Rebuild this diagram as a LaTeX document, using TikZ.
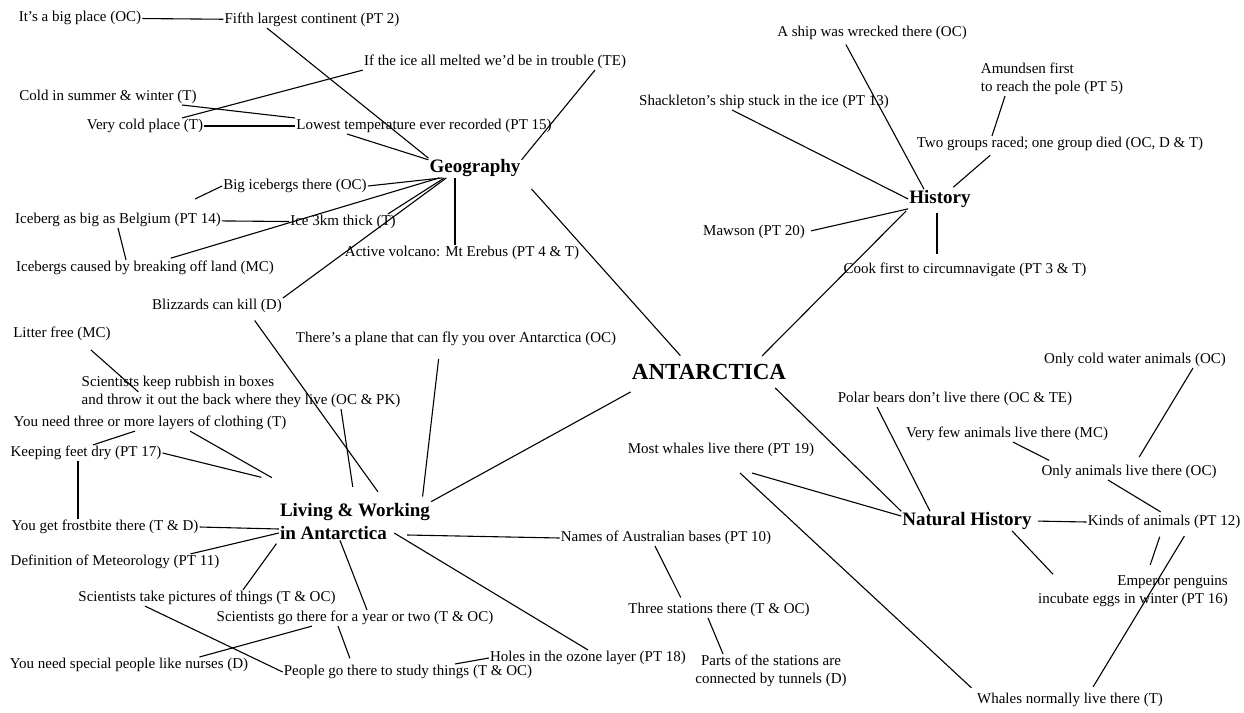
\documentclass[tikz,border=0pt]{standalone}
\usepackage{fontspec}
\setmainfont{Liberation Serif}
\usetikzlibrary{positioning}

\begin{document}
\begin{tikzpicture}[x=1pt,y=-1pt,
	leaf/.style={font=\fontsize{15}{18}\selectfont, inner sep=1pt},
	topic/.style={font=\fontsize{19}{23}\selectfont\bfseries, inner sep=1pt},
	hub/.style={font=\fontsize{23}{26}\selectfont\bfseries, inner sep=1pt},
	conn/.style={line width=1.1pt}]
	\fill[white] (0,0) rectangle (1244,712);
	\useasboundingbox (0,0) rectangle (1244,712);

	\node[hub] (antarctica) at (709,372) {ANTARCTICA};

	% geography
	\node[topic] (geog) at (475,168) {Geography};
	\node[leaf] (bigplace) at (80,18) {It's a big place (OC)};
	\node[leaf] (fifth) at (312,20) {Fifth largest continent (PT 2)};
	\node[leaf] (melted) at (495,62) {If the ice all melted we'd be in trouble (TE)};
	\node[leaf] (coldsw) at (108,97) {Cold in summer \& winter (T)};
	\node[leaf] (verycold) at (145,126) {Very cold place (T)};
	\node[leaf] (lowest) at (424,126) {Lowest temperature ever recorded (PT 15)};
	\node[leaf] (bigice) at (295,186) {Big icebergs there (OC)};
	\node[leaf] (belgium) at (118,220) {Iceberg as big as Belgium (PT 14)};
	\node[leaf] (icethick) at (343,222) {Ice 3km thick (T)};
	\node[leaf] (volcano) at (462,253) {Active volcano: Mt Erebus (PT 4 \& T)};
	\node[leaf] (icebergs) at (145,268) {Icebergs caused by breaking off land (MC)};
	\node[leaf] (blizzard) at (217,306) {Blizzards can kill (D)};

	% history
	\node[topic] (history) at (940,199) {History};
	\node[leaf] (ship) at (872,33) {A ship was wrecked there (OC)};
	\node[leaf, align=left] (amundsen) at (1052,79) {Amundsen first\\to reach the pole (PT 5)};
	\node[leaf] (shackleton) at (764,102) {Shackleton's ship stuck in the ice (PT 13)};
	\node[leaf] (twogroups) at (1060,144) {Two groups raced; one group died (OC, D \& T)};
	\node[leaf] (mawson) at (754,232) {Mawson (PT 20)};
	\node[leaf] (cook) at (965,270) {Cook first to circumnavigate (PT 3 \& T)};

	% natural history
	\node[topic] (nathist) at (967,521) {Natural History};
	\node[leaf] (coldwater) at (1135,360) {Only cold water animals (OC)};
	\node[leaf] (polar) at (955,399) {Polar bears don't live there (OC \& TE)};
	\node[leaf] (fewanimals) at (1007,434) {Very few animals live there (MC)};
	\node[leaf] (mostwhales) at (721,450) {Most whales live there (PT 19)};
	\node[leaf] (onlyanimals) at (1129,472) {Only animals live there (OC)};
	\node[leaf] (kinds) at (1164,522) {Kinds of animals (PT 12)};
	\node[leaf, align=right] (emperor) at (1133,591) {Emperor penguins\\incubate eggs in winter (PT 16)};
	\node[leaf] (whalesnorm) at (1070,700) {Whales normally live there (T)};

	% living & working
	\node[topic, align=left] (living) at (355,521) {Living \& Working\\in Antarctica};
	\node[leaf] (litter) at (62,334) {Litter free (MC)};
	\node[leaf] (plane) at (456,339) {There's a plane that can fly you over Antarctica (OC)};
	\node[leaf, align=left] (rubbish) at (241,392) {Scientists keep rubbish in boxes\\and throw it out the back where they live (OC \& PK)};
	\node[leaf] (layers) at (150,423) {You need three or more layers of clothing (T)};
	\node[leaf] (feet) at (86,453) {Keeping feet dry (PT 17)};
	\node[leaf] (frostbite) at (105,527) {You get frostbite there (T \& D)};
	\node[leaf] (names) at (666,538) {Names of Australian bases (PT 10)};
	\node[leaf] (meteo) at (115,562) {Definition of Meteorology (PT 11)};
	\node[leaf] (pictures) at (207,598) {Scientists take pictures of things (T \& OC)};
	\node[leaf] (three) at (719,610) {Three stations there (T \& OC)};
	\node[leaf] (year) at (355,618) {Scientists go there for a year or two (T \& OC)};
	\node[leaf] (ozone) at (588,658) {Holes in the ozone layer (PT 18)};
	\node[leaf, align=center] (parts) at (771,671) {Parts of the stations are\\connected by tunnels (D)};
	\node[leaf] (nurses) at (129,665) {You need special people like nurses (D)};
	\node[leaf] (study) at (408,672) {People go there to study things (T \& OC)};

	\draw[conn] (bigplace) -- (fifth);
	\draw[conn] ([xshift=-45]fifth.south) -- (geog.north west);
	\draw[conn] (melted.south west) -- ([xshift=37]verycold.north);
	\draw[conn] ([xshift=74]coldsw.south) -- (lowest.north west);
	\draw[conn] (verycold) -- (lowest);
	\draw[conn] ([xshift=-77]lowest.south) -- (geog.170);
	\draw[conn] ([xshift=100]melted.south) -- (geog.10);
	\draw[conn] (bigice.east) -- ([xshift=14]geog.south west);
	\draw[conn, shorten >=30pt] (bigice.west) -- ([xshift=50]belgium.north);
	\draw[conn] (belgium) -- (icethick);
	\draw[conn, shorten <=6pt] ([xshift=20]icebergs.north) -- ([xshift=11]geog.south west);
	\draw[conn] ([xshift=-9]icethick.north east) -- ([xshift=16]geog.south west);
	\draw[conn] (blizzard.north east) -- ([xshift=18]geog.south west);
	\draw[conn] ([xshift=-7]volcano.north) -- ([xshift=-20]geog.south);
	\draw[conn] (belgium.south) -- ([xshift=-19]icebergs.north);
	\draw[conn, shorten <=15pt, shorten >=10pt] (geog.south east) -- ([xshift=-22]antarctica.north);

	\draw[conn, shorten <=4pt] ([xshift=-28]ship.south) -- ([xshift=-16]history.north);
	\draw[conn] ([xshift=-32]shackleton.south) -- (history.west);
	\draw[conn] ([xshift=-47]amundsen.south) -- ([xshift=-68]twogroups.north);
	\draw[conn, shorten <=5pt, shorten >=3pt] ([xshift=-66]twogroups.south) -- ([xshift=11]history.north);
	\draw[conn, shorten <=5pt] (mawson.east) -- (history.south west);
	\draw[conn, shorten <=4pt, shorten >=8pt] ([xshift=-3]history.south) -- ([xshift=-28]cook.north);
	\draw[conn, shorten <=3pt, shorten >=10pt] (history.south west) -- ([xshift=46]antarctica.north);

	\draw[conn, shorten <=10pt] ([xshift=59]antarctica.south) -- (nathist.north west);
	\draw[conn] ([xshift=-78]polar.south) -- ([xshift=-37]nathist.north);
	\draw[conn] ([xshift=31,yshift=-15]mostwhales.south) -- ([yshift=5]nathist.west);
	\draw[conn, shorten >=6pt] ([xshift=19,yshift=-15]mostwhales.south) -- (whalesnorm.north west);
	\draw[conn, shorten >=8pt] ([xshift=6]fewanimals.south) -- ([xshift=16]onlyanimals.north west);
	\draw[conn, shorten >=8pt] ([xshift=58]coldwater.south) -- ([xshift=6]onlyanimals.north);
	\draw[conn, shorten >=4pt] ([xshift=-21]onlyanimals.south) -- (kinds.north);
	\draw[conn, shorten <=5pt] (nathist.east) -- (kinds.west);
	\draw[conn] ([xshift=45]nathist.south) -- ([xshift=16]emperor.north west);
	\draw[conn, shorten <=7pt, shorten >=10pt] ([xshift=-2]kinds.south) -- ([xshift=14]emperor.north);
	\draw[conn, shorten <=7pt, shorten >=6pt] ([xshift=24]kinds.south) -- ([xshift=20]whalesnorm.north);

	\draw[conn, shorten <=8pt, shorten >=12pt] ([xshift=33]blizzard.south) -- ([xshift=30]living.north);
	\draw[conn, shorten <=12pt, shorten >=5pt] ([xshift=-16]plane.south) -- ([xshift=67]living.north);
	\draw[conn] (living.north east) -- ([yshift=-11]antarctica.south west);
	\draw[conn, shorten <=12pt] ([xshift=20]litter.south) -- ([xshift=58]rubbish.west);
	\draw[conn, shorten >=15pt] ([xshift=100]rubbish.south) -- (living.north);
	\draw[conn] ([xshift=-15]layers.south) -- ([xshift=7]feet.north);
	\draw[conn, shorten >=8pt] ([xshift=40]layers.south) -- ([yshift=20]living.north west);
	\draw[conn, shorten >=18pt] (feet.east) -- ([yshift=20]living.north west);
	\draw[conn] ([xshift=-8]feet.south) -- ([xshift=-27]frostbite.north);
	\draw[conn] (frostbite.east) -- ([yshift=-8]living.west);
	\draw[conn] ([xshift=-30]meteo.north east) -- ([yshift=-12]living.west);
	\draw[conn, shorten >=4pt] ([xshift=36]pictures.north) -- (living.south west);
	\draw[conn] ([xshift=-15]living.south) -- ([xshift=12]year.north);
	\draw[conn] ([xshift=-62]pictures.south) -- (study.west);
	\draw[conn] ([xshift=-43]year.south) -- ([xshift=-50]nurses.north east);
	\draw[conn, shorten >=6pt] ([xshift=-17]year.south) -- ([xshift=-56]study.north);
	\draw[conn] ([xshift=47]study.north) -- (ozone.west);
	\draw[conn] ([xshift=-37,yshift=-12]living.east) -- (ozone.north);
	\draw[conn] ([xshift=-24,yshift=-14]living.east) -- (names.west);
	\draw[conn, shorten >=5pt] ([xshift=-11]names.south) -- ([xshift=-36]three.north);
	\draw[conn] ([xshift=-11]three.south) -- ([xshift=-48]parts.north);
\end{tikzpicture}
\end{document}
